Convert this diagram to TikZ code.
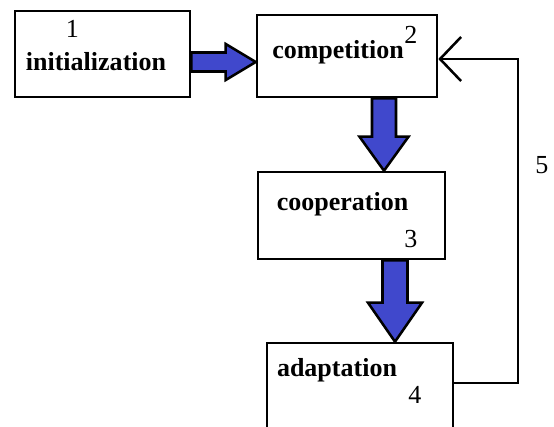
\documentclass[tikz,border=0pt]{standalone}
\usepackage{fontspec}
\setmainfont{Liberation Serif}
\usetikzlibrary{calc,arrows.meta}
\definecolor{blockblue}{RGB}{64,72,204}

% fat block arrows: start, tip, shaft half width, head half width, head length
\newcommand{\fatright}[5]{%
  \draw[fatarrow] ($(#1)+(0,-#3)$) -- ($(#2)+(-#5,-#3)$) -- ($(#2)+(-#5,-#4)$) -- (#2)
    -- ($(#2)+(-#5,#4)$) -- ($(#2)+(-#5,#3)$) -- ($(#1)+(0,#3)$) -- cycle;}
\newcommand{\fatdown}[5]{%
  \draw[fatarrow] ($(#1)+(-#3,0)$) -- ($(#2)+(-#3,-#5)$) -- ($(#2)+(-#4,-#5)$) -- (#2)
    -- ($(#2)+(#4,-#5)$) -- ($(#2)+(#3,-#5)$) -- ($(#1)+(#3,0)$) -- cycle;}

\begin{document}
\begin{tikzpicture}[
    x=0.025cm, y=-0.025cm,
    stage/.style={rectangle, draw, line width=1.8pt, inner sep=0pt},
    word/.style={font=\fontsize{18.5}{20}\selectfont\bfseries, inner sep=0pt, anchor=base},
    num/.style={font=\fontsize{18.5}{20}\selectfont, inner sep=0pt, anchor=base},
    fatarrow/.style={draw=black, fill=blockblue, line width=1.8pt, line join=miter},
    back/.style={draw, line width=1.8pt, -{Straight Barb[length=5.25mm, width=11mm]}}
]
\useasboundingbox (0,0) rectangle (554,427);
\clip (0,0) rectangle (554,427);

% Stages
\node[stage, minimum width=4.375cm, minimum height=2.15cm] (init) at (102.5,54) {};
\node[stage, minimum width=4.5cm, minimum height=2.05cm] (comp) at (347,56) {};
\node[stage, minimum width=4.675cm, minimum height=2.175cm] (coop) at (351.5,215.5) {};
\node[stage, minimum width=4.65cm, minimum height=2.5cm] (adapt) at (360,393) {};

% Stage names
\node[word] (initname) at (96,71) {initialization};
\node[word] (compname) at (338,59) {competition};
\node[word] (coopname) at (342.5,210) {cooperation};
\node[word] (adaptname) at (337,376) {adaptation};

% Numbers
\node[num] (n1) at (72.5,38) {1};
\node[num] (n2) at (411,44) {2};
\node[num] (n3) at (411,247) {3};
\node[num] (n4) at (415,403) {4};
\node[num] (n5) at (542,174) {5};

% Block arrows
\coordinate (h0) at (init.east |- 0,62);
\coordinate (h1) at (comp.west |- 0,62);
\fatright{h0}{h1}{9.5}{18}{30}
\coordinate (v0) at (384,0 |- comp.south);
\coordinate (v1) at (384,0 |- coop.north);
\fatdown{v0}{v1}{12}{24.5}{34}
\coordinate (w0) at (395,0 |- coop.south);
\coordinate (w1) at (395,0 |- adapt.north);
\fatdown{w0}{w1}{12.5}{27}{39}

% Feedback loop
\coordinate (turn) at (518,383);
\draw[back] (adapt.east |- turn) -- (turn) |- (comp.east |- 0,59);

\end{tikzpicture}
\end{document}
